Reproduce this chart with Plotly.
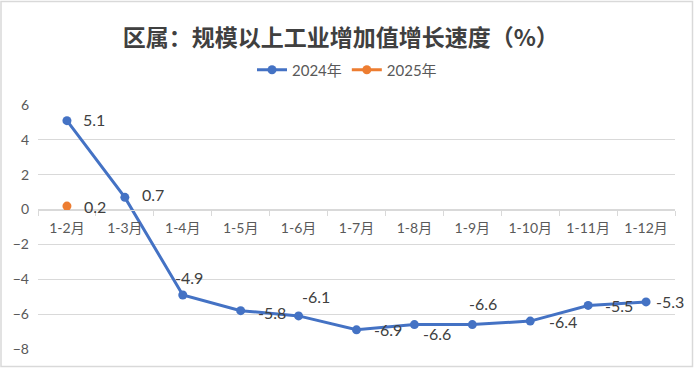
import plotly.graph_objects as go

categories = ["1-2月", "1-3月", "1-4月", "1-5月", "1-6月", "1-7月", "1-8月", "1-9月", "1-10月", "1-11月", "1-12月"]
values_2024 = [5.1, 0.7, -4.9, -5.8, -6.1, -6.9, -6.6, -6.6, -6.4, -5.5, -5.3]
categories_2025 = ["1-2月"]
values_2025 = [0.2]
y_ticks = [-8, -6, -4, -2, 0, 2, 4, 6]

# label offsets (pixels) per point: (xshift of left edge, yshift of middle)
label_offsets_2024 = [(14, 1), (15, 3), (-10, 17), (15, -2), (1, 19), (15, 0),
                      (7, -9), (-5, 21), (17, 0), (15, 0), (8, 0)]
label_offsets_2025 = [(15, 0)]

BLUE = "#4472C4"
ORANGE = "#ED7D31"
GRID = "#d9d9d9"
TXT = "#595959"
FONT = "Lato, Noto Sans CJK SC, sans-serif"

fig = go.Figure()
fig.add_trace(go.Scatter(x=categories, y=values_2024, mode="lines+markers", name="2024年",
                         line=dict(color=BLUE, width=3), marker=dict(size=9, color=BLUE)))
fig.add_trace(go.Scatter(x=categories_2025, y=values_2025, mode="lines+markers", name="2025年",
                         line=dict(color=ORANGE, width=3), marker=dict(size=9, color=ORANGE)))

ymin, ymax = min(y_ticks), max(y_ticks)
annotations = []
for c, v, (dx, dy) in zip(categories, values_2024, label_offsets_2024):
    annotations.append(dict(x=c, y=v, text=f"{v}", showarrow=False, xanchor="left", yanchor="middle",
                            xshift=dx, yshift=dy, font=dict(size=16, color="#404040", family=FONT)))
for c, v, (dx, dy) in zip(categories_2025, values_2025, label_offsets_2025):
    annotations.append(dict(x=c, y=v, text=f"{v}", showarrow=False, xanchor="left", yanchor="middle",
                            xshift=dx, yshift=dy, font=dict(size=16, color="#404040", family=FONT)))

W, H = 694, 368
ml, mr, mt, mb = 38, 19, 105, 19
pw, ph = W - ml - mr, H - mt - mb

fig.update_layout(
    width=W, height=H,
    margin=dict(l=ml, r=mr, t=mt, b=mb),
    paper_bgcolor="white", plot_bgcolor="white",
    font=dict(family=FONT, color=TXT),
    title=dict(text="区属：规模以上工业增加值增长速度（%）", x=0.491, xanchor="center",
               y=1 - 38 / H, yanchor="middle",
               font=dict(family="Noto Sans CJK SC", size=23, color="#404040", weight="bold")),
    showlegend=True,
    legend=dict(orientation="h", x=(347 - ml) / pw, xanchor="center", y=(H - mb - 70) / ph, yanchor="middle",
                font=dict(size=15, color=TXT), itemwidth=30, tracegroupgap=0),
    annotations=annotations,
    shapes=[dict(type="rect", xref="paper", yref="paper",
                 x0=-(ml - 1) / pw, x1=(W - ml - 1.5) / pw, y0=-(mb - 1.5) / ph, y1=(H - mb - 1.5) / ph,
                 line=dict(color=GRID, width=1.5))],
)
fig.update_xaxes(type="category", range=[-0.5, len(categories) - 0.5], anchor="free",
                 position=(0 - ymin) / (ymax - ymin), showgrid=False, showline=True,
                 linecolor=GRID, linewidth=1, ticks="outside", tickson="boundaries", ticklen=5,
                 tickcolor=GRID, tickfont=dict(size=14, color=TXT), ticklabelstandoff=6)
fig.update_yaxes(range=[ymin, ymax], tickvals=y_ticks, showgrid=True, gridcolor=GRID, gridwidth=1,
                 zeroline=False, showline=False, tickfont=dict(size=14, color=TXT), ticklabelstandoff=8)

fig.write_html("out.html", config={"displayModeBar": False})

with open("out.html", encoding="utf-8") as f:
    html = f.read()
html = html.replace("<body>", '<body style="margin:0;padding:0;overflow:hidden">', 1)
with open("out.html", "w", encoding="utf-8") as f:
    f.write(html)
